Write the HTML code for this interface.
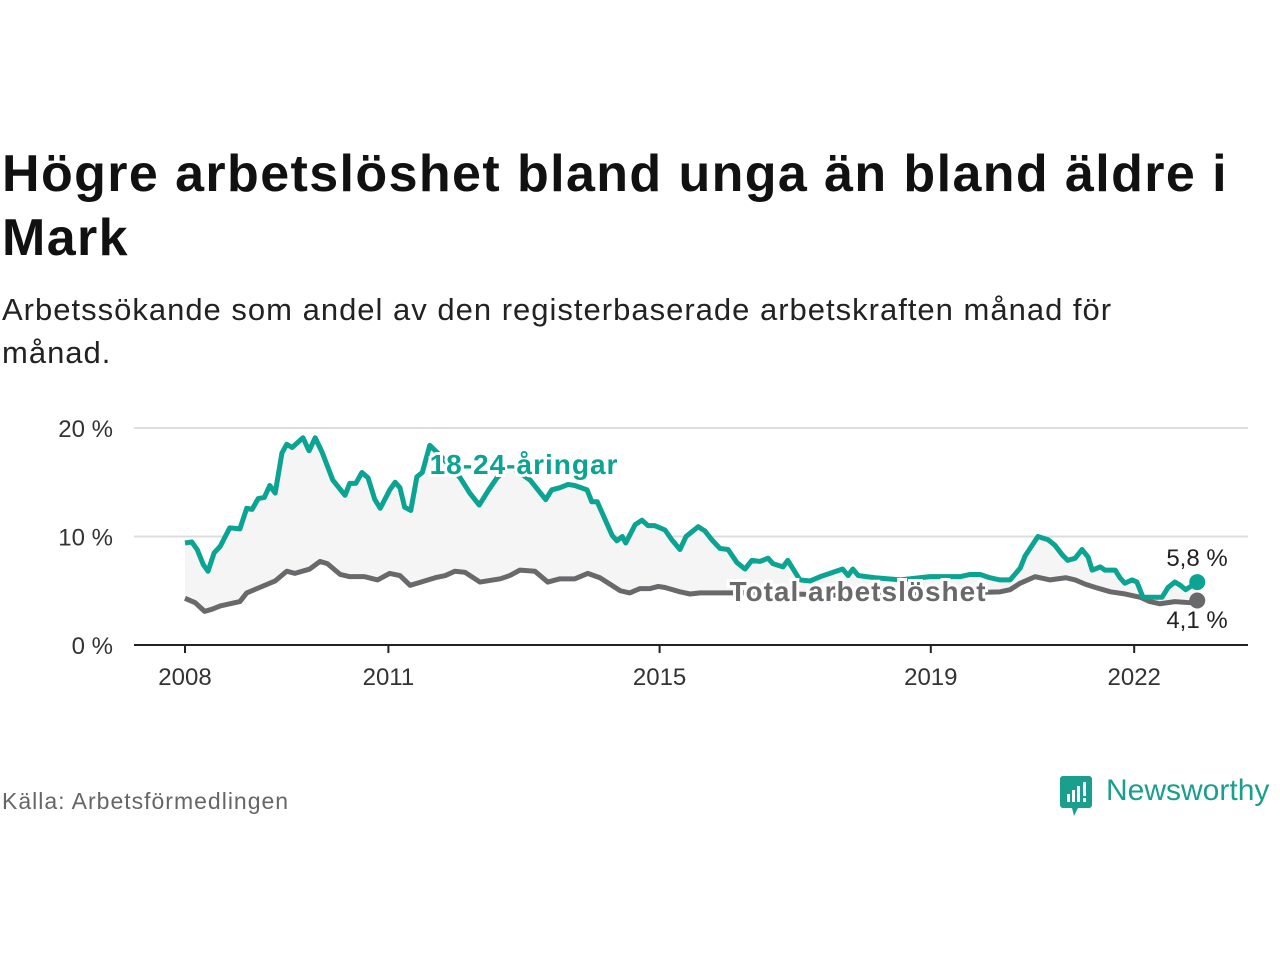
<!DOCTYPE html>
<html><head><meta charset="utf-8"><style>
body{margin:0;width:1280px;height:960px;background:#fff;font-family:"Liberation Sans",sans-serif;overflow:hidden;position:relative}
.t{position:absolute;left:2px;top:142px;font-size:52px;font-weight:bold;color:#111;line-height:64px;width:1278px;letter-spacing:1.4px;white-space:nowrap}
.s{position:absolute;left:2px;top:288px;font-size:31px;color:#222;line-height:43px;width:1270px;letter-spacing:1px;white-space:nowrap}
.src{position:absolute;left:2px;top:788px;font-size:23px;color:#666;letter-spacing:1px}
</style></head><body>
<div class="t">Högre arbetslöshet bland unga än bland äldre i<br>Mark</div>
<div class="s">Arbetssökande som andel av den registerbaserade arbetskraften månad för<br>månad.</div>
<svg id="c" width="1280" height="960" style="position:absolute;left:0;top:0"></svg>
<div class="src">Källa: Arbetsförmedlingen</div>
<div style="position:absolute;left:1060px;top:774px;">
<svg width="34" height="44"><rect x="0" y="2" width="32" height="32" rx="3" fill="#1a9e8e"/><path d="M12 34 L18 34 L14 42 Z" fill="#1a9e8e"/><rect x="7" y="20" width="3" height="8" fill="#fff"/><rect x="12" y="16" width="3" height="12" fill="#fff"/><rect x="17" y="12" width="3" height="16" fill="#fff"/><rect x="23" y="8" width="3" height="14" fill="#fff"/><rect x="23" y="24" width="3" height="4" fill="#fff"/></svg>
<span style="position:absolute;left:46px;top:0;font-size:30px;color:#1a9e8e;white-space:nowrap">Newsworthy</span></div>
<script>
const youthYears=[2008.00,2008.10,2008.18,2008.27,2008.34,2008.43,2008.52,2008.66,2008.81,2008.91,2008.99,2009.08,2009.17,2009.25,2009.33,2009.43,2009.50,2009.58,2009.74,2009.83,2009.92,2010.02,2010.18,2010.36,2010.43,2010.52,2010.61,2010.70,2010.80,2010.88,2011.02,2011.10,2011.17,2011.24,2011.33,2011.42,2011.50,2011.61,2011.76,2012.06,2012.20,2012.34,2012.48,2012.60,2012.79,2013.09,2013.32,2013.41,2013.53,2013.65,2013.75,2013.93,2014.00,2014.08,2014.30,2014.37,2014.45,2014.50,2014.64,2014.74,2014.83,2014.93,2015.08,2015.18,2015.30,2015.39,2015.57,2015.67,2015.77,2015.89,2016.01,2016.14,2016.26,2016.36,2016.48,2016.60,2016.67,2016.82,2016.89,2017.00,2017.07,2017.22,2017.37,2017.56,2017.70,2017.78,2017.85,2017.93,2018.18,2018.55,2018.99,2019.43,2019.58,2019.73,2019.87,2020.02,2020.17,2020.32,2020.39,2020.58,2020.73,2020.83,2020.94,2021.02,2021.13,2021.23,2021.32,2021.38,2021.50,2021.57,2021.72,2021.79,2021.86,2021.97,2022.04,2022.13,2022.41,2022.50,2022.60,2022.68,2022.76,2022.93];
const youthValues=[9.4,9.5,8.8,7.4,6.8,8.5,9.1,10.8,10.7,12.6,12.5,13.5,13.6,14.7,14.0,17.7,18.5,18.2,19.1,17.9,19.1,17.8,15.2,13.8,14.9,14.9,15.9,15.4,13.4,12.6,14.3,15.0,14.5,12.7,12.4,15.5,15.9,18.4,17.5,15.4,14.0,12.9,14.3,15.4,16.5,15.2,13.4,14.3,14.5,14.8,14.7,14.3,13.2,13.2,10.1,9.6,10.0,9.4,11.1,11.5,11.0,11.0,10.6,9.7,8.8,10.0,10.9,10.5,9.7,8.9,8.8,7.6,7.0,7.8,7.7,8.0,7.5,7.2,7.8,6.7,6.0,5.9,6.3,6.7,7.0,6.4,7.0,6.4,6.2,6.0,6.3,6.3,6.5,6.5,6.2,6.0,6.0,7.1,8.2,10.0,9.7,9.2,8.3,7.8,8.0,8.8,8.1,6.9,7.2,6.9,6.9,6.2,5.7,6.0,5.8,4.4,4.4,5.3,5.8,5.5,5.1,5.8];
const totalYears=[2008.00,2008.15,2008.29,2008.40,2008.52,2008.81,2008.91,2009.10,2009.33,2009.50,2009.62,2009.84,2009.99,2010.10,2010.29,2010.43,2010.65,2010.84,2011.02,2011.17,2011.32,2011.43,2011.69,2011.84,2011.98,2012.13,2012.35,2012.65,2012.79,2012.94,2013.16,2013.35,2013.53,2013.75,2013.94,2014.12,2014.42,2014.56,2014.71,2014.86,2014.98,2015.08,2015.30,2015.45,2015.60,2015.89,2016.5,2017.0,2017.5,2018.0,2018.5,2019.0,2019.5,2020.02,2020.17,2020.32,2020.54,2020.76,2020.99,2021.13,2021.28,2021.43,2021.65,2021.87,2022.09,2022.23,2022.38,2022.60,2022.82,2022.93];
const totalValues=[4.3,3.9,3.1,3.3,3.6,4.0,4.8,5.3,5.9,6.8,6.6,7.0,7.7,7.5,6.5,6.3,6.3,6.0,6.6,6.4,5.5,5.7,6.2,6.4,6.8,6.7,5.8,6.1,6.4,6.9,6.8,5.8,6.1,6.1,6.6,6.2,5.0,4.8,5.2,5.2,5.4,5.3,4.9,4.7,4.8,4.8,4.8,4.7,4.6,4.6,4.6,4.7,4.8,4.9,5.1,5.7,6.3,6.0,6.2,6.0,5.6,5.3,4.9,4.7,4.4,4.0,3.8,4.0,3.9,4.1];
const yTicks=[0,10,20];
const xTicks=[2008,2011,2015,2019,2022];
const x=v=>185+(v-2008)*67.8, y=v=>645-v*10.85;
const svg=document.getElementById('c'),NS='http://www.w3.org/2000/svg';
function mk(t,a,p){const e=document.createElementNS(NS,t);for(const k in a)e.setAttribute(k,a[k]);(p||svg).appendChild(e);return e;}
yTicks.forEach(v=>{
 if(v>0){const g=mk('line',{x1:134,x2:1248,y1:y(v),y2:y(v),stroke:'#ddd','stroke-width':2});
 
 }
 const t=mk('text',{x:113,y:y(v)+9,'text-anchor':'end','font-size':24,fill:'#333'});t.textContent=v+' %';
 
 
});
xTicks.forEach(v=>{
 const l=mk('line',{x1:x(v),x2:x(v),y1:645,y2:653,stroke:'#222','stroke-width':2});
 
 
 const t=mk('text',{x:x(v),y:685,'text-anchor':'middle','font-size':24,fill:'#333'});t.textContent=v;
 
 
});
let pts=youthYears.map((d,i)=>x(d)+','+y(youthValues[i]));
for(let i=totalYears.length-1;i>=0;i--)pts.push(x(totalYears[i])+','+y(totalValues[i]));
const area=mk('polygon',{points:pts.join(' '),fill:'#f5f5f5'});


const ax=mk('line',{x1:134,x2:1248,y1:645,y2:645,stroke:'#222','stroke-width':2});


function line(xs,vs,c,name){
 const p=mk('polyline',{points:xs.map((d,i)=>x(d)+','+y(vs[i])).join(' '),fill:'none',stroke:c,'stroke-width':5,'stroke-linejoin':'round'});
 
 
 const n=xs.length-1;
 const d=mk('circle',{cx:x(xs[n]),cy:y(vs[n]),r:8,fill:c});
 
 
}
line(totalYears,totalValues,'#69696c','total-line');
line(youthYears,youthValues,'#0ba391','youth-line');
function lab(tx,xx,yy,c,size,bold,anchor,name){
 const t=mk('text',{x:xx,y:yy,'text-anchor':anchor,'font-size':size,'font-weight':bold?'bold':'normal',fill:c,stroke:bold?'#fff':'none','stroke-width':bold?6:0,'paint-order':'stroke','letter-spacing':bold?1:0});
 t.textContent=tx;
 
 
}
lab('18-24-åringar',524,474,'#0ba391',28,true,'middle','youth-series-label');
lab('Total arbetslöshet',858,601,'#69696c',28,true,'middle','total-series-label');
lab(String(youthValues[youthValues.length-1]).replace('.',',')+' %',1197,566,'#222',24,false,'middle','youth-end-value');
lab(String(totalValues[totalValues.length-1]).replace('.',',')+' %',1197,628,'#222',24,false,'middle','total-end-value');
</script>
</body></html>
